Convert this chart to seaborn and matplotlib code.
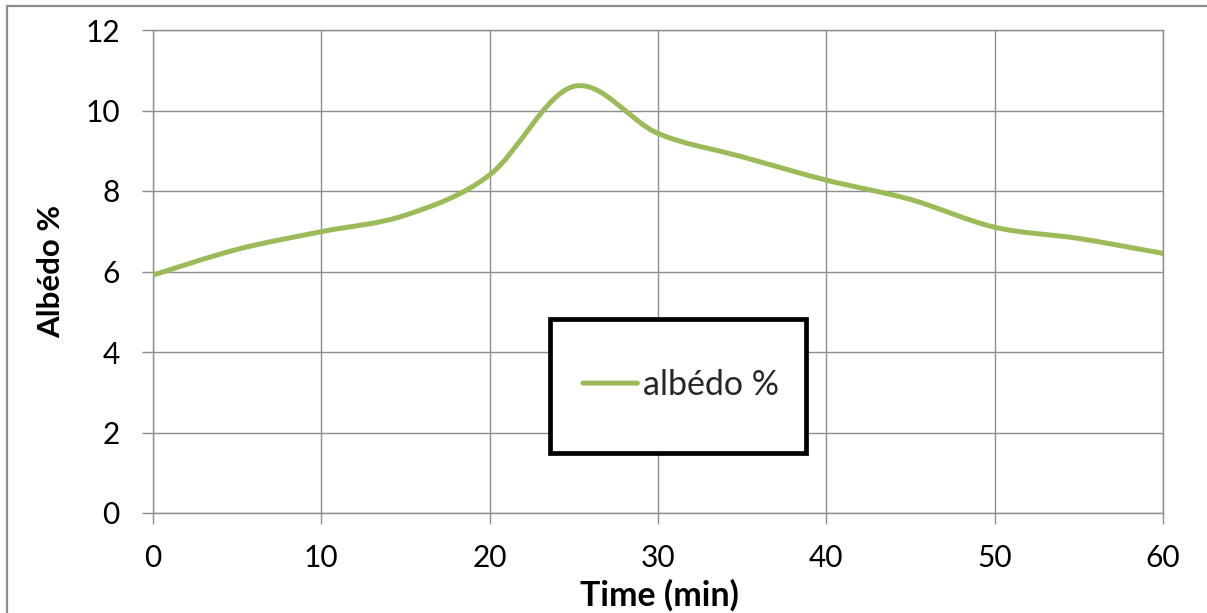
import numpy as np
import matplotlib
matplotlib.use("Agg")
import matplotlib.pyplot as plt
import seaborn as sns
from matplotlib.patches import Rectangle
from matplotlib.patheffects import AbstractPathEffect
from matplotlib.path import Path
from matplotlib.transforms import IdentityTransform

# ---- data ----
time_min = [0, 5, 10, 15, 20, 25, 30, 35, 40, 45, 50, 55, 60]
albedo_pct = [5.91, 6.55, 6.99, 7.40, 8.40, 10.60, 9.43, 8.85, 8.27, 7.79, 7.10, 6.82, 6.45]
x_ticks = [0, 10, 20, 30, 40, 50, 60]
y_ticks = [0, 2, 4, 6, 8, 10, 12]
series_label = "albédo %"
x_label = "Time (min)"
y_label = "Albédo %"

GREEN = "#9BBB59"
GRID = "#8e8e8e"


class SmoothLine(AbstractPathEffect):
    """Render a polyline as an Excel-like smoothed (Catmull-Rom) curve."""

    def draw_path(self, renderer, gc, tpath, affine, rgbFace=None):
        pts = affine.transform(tpath.vertices)
        n = len(pts)
        if n < 3:
            renderer.draw_path(gc, tpath, affine, rgbFace)
            return
        verts = [pts[0]]
        codes = [Path.MOVETO]
        for i in range(n - 1):
            p0 = pts[max(i - 1, 0)]
            p1 = pts[i]
            p2 = pts[i + 1]
            p3 = pts[min(i + 2, n - 1)]
            c1 = p1 + (p2 - p0) / 6.0
            c2 = p2 - (p3 - p1) / 6.0
            verts += [c1, c2, p2]
            codes += [Path.CURVE4] * 3
        renderer.draw_path(gc, Path(np.array(verts), codes), IdentityTransform(), rgbFace)


sns.set_theme(style="white")
plt.rcParams["font.family"] = ["Lato", "DejaVu Sans"]

W, H = 1207, 613
fig = plt.figure(figsize=(W / 100, H / 100), dpi=100)
fig.patch.set_facecolor("white")

# outer chart-area border
fig.add_artist(Rectangle((7 / W, -0.05), 1.2, 1.05 - 5.5 / H,
                         transform=fig.transFigure, fill=False,
                         edgecolor="#8c8c8c", linewidth=1.6, clip_on=False))

ax = fig.add_axes([153 / W, 1 - 513 / H, 1010 / W, 483 / H])
ax.set_facecolor("white")

sns.lineplot(x=time_min, y=albedo_pct, ax=ax, color=GREEN, linewidth=3.6,
             label=series_label, zorder=3)
line = ax.lines[0]
line.set_path_effects([SmoothLine()])
line.set_solid_capstyle("round")
line.set_solid_joinstyle("round")

ax.set_xlim(0, 60)
ax.set_ylim(0, 12)
ax.set_xticks(x_ticks)
ax.set_yticks(y_ticks)
ax.grid(True, color=GRID, linewidth=1.0)
ax.set_axisbelow(True)
for s in ax.spines.values():
    s.set_color(GRID)
    s.set_linewidth(1.0)

ax.tick_params(axis="both", which="major", direction="out", length=8,
               width=1.0, color=GRID, labelsize=21.5, labelcolor="black")
ax.tick_params(axis="y", pad=16, left=True)
ax.tick_params(axis="x", pad=14, bottom=True)

ax.set_xlabel(x_label, fontsize=24.5, fontweight="bold", color="black")
ax.set_ylabel(y_label, fontsize=22.5, fontweight="bold", color="black")
ax.xaxis.label.set_va("center")
ax.yaxis.label.set_va("center")
ax.xaxis.set_label_coords((659 - 153) / 1010, (513 - 595) / 483)
ax.yaxis.set_label_coords((51 - 153) / 1010, 0.5)

# legend box (Excel-style fixed-size frame)
ax.add_patch(Rectangle(((549.5 - 153) / 1010, (513 - 452.5) / 483),
                       256 / 1010, 134 / 483, transform=ax.transAxes,
                       facecolor="white", edgecolor="black", linewidth=3.4,
                       zorder=4, clip_on=False))
leg = ax.legend(loc="center left",
                bbox_to_anchor=((583 - 153) / 1010, (513 - 385) / 483),
                frameon=False, fontsize=24.5, borderpad=0, borderaxespad=0,
                handlelength=1.6, handletextpad=0.15)
leg.set_zorder(5)

fig.savefig("out.png", dpi=100, facecolor="white")
